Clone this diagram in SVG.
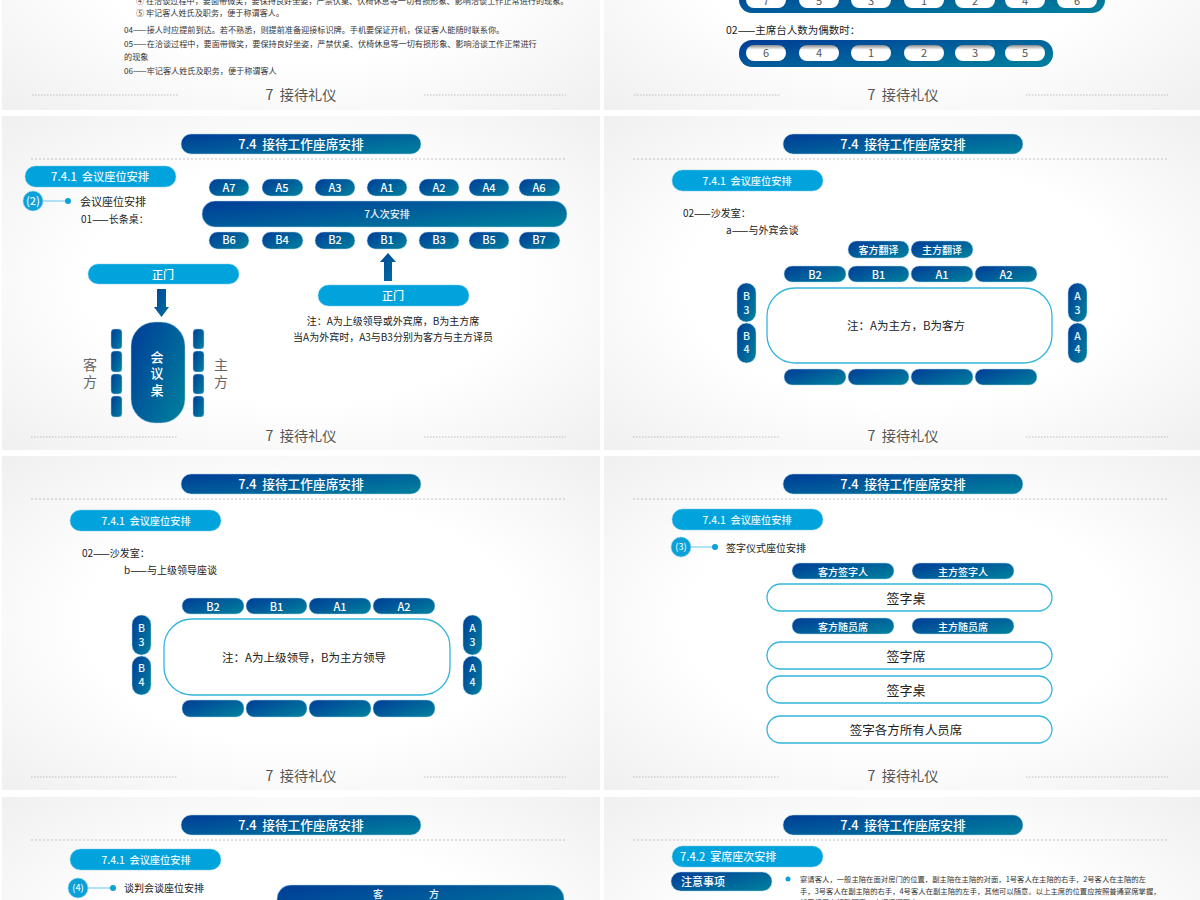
<svg xmlns="http://www.w3.org/2000/svg" width="1200" height="900" viewBox="0 0 1200 900">
<style>
text{font-family:"Noto Sans CJK SC","Liberation Sans",sans-serif;dominant-baseline:central;transform:translateY(-1px)}
.panel{fill:url(#bg)}
.dash{stroke:#b4b4b4;stroke-width:.8;stroke-dasharray:2 2;fill:none}
.fdash{stroke:#a8a8a8;stroke-width:.7;stroke-dasharray:1.5 1.5;fill:none}
.foot{font-size:14.2px;fill:#555;text-anchor:middle}
.g{fill:url(#dark);stroke:#a8d4ea;stroke-width:.5}
.l{fill:#00a3db;stroke:#7ccbea;stroke-width:.5}
.tbl{fill:#fff;stroke:#35b5dc;stroke-width:1.3}
.ttl{font-size:12.7px;font-weight:500;fill:#fff;text-anchor:middle}
.sub{font-size:10.2px;font-weight:500;fill:#e8f7fd;text-anchor:middle}
.w{font-size:11px;font-weight:500;fill:#fff;text-anchor:middle}
.wb{font-size:10px;font-weight:500;fill:#e8f4fa;text-anchor:middle}
.b{font-size:10px;fill:#222}
.s{font-size:8.15px;fill:#333}
.n{font-size:11.5px;fill:#222;text-anchor:middle}
.c{font-size:13px;fill:#222;text-anchor:middle}
.side{font-size:14px;fill:#666;text-anchor:middle}
.num{font-size:11px;fill:#555;text-anchor:middle}
.bn{font-size:10.5px;font-weight:500;fill:#e8f7fd;text-anchor:middle}
.cl{stroke:#7fd0ee;stroke-width:1.2;marker-end:url(#dot);fill:none}
.circ{fill:#0ca0d8;stroke:#8fd6f0;stroke-width:.6}
.ar{fill:url(#arrow)}
.wp{fill:url(#hole)}
</style>
<defs>
<radialGradient id="bg" cx=".5" cy=".5" r=".72"><stop offset=".5" stop-color="#fff"/><stop offset="1" stop-color="#efefef"/></radialGradient>
<linearGradient id="dark" x1="0" y1="0" x2="1" y2=".75"><stop offset="0" stop-color="#003c97"/><stop offset="1" stop-color="#007b9d"/></linearGradient>
<linearGradient id="arrow" x1="0" y1="0" x2="1" y2="1"><stop offset="0" stop-color="#00479a"/><stop offset="1" stop-color="#00709f"/></linearGradient>
<linearGradient id="hole" x1="0" y1="0" x2="0" y2="1"><stop offset="0" stop-color="#8a8a8a"/><stop offset=".3" stop-color="#fff"/><stop offset="1" stop-color="#fff"/></linearGradient>
<marker id="dot" viewBox="0 0 6 6" refX="3" refY="3" markerWidth="6" markerHeight="6" markerUnits="userSpaceOnUse"><circle cx="3" cy="3" r="3" fill="#0ca0d8"/></marker>
</defs>

<rect width="1200" height="900" fill="#fff"/>
<g id="panels">
<rect class="panel" x="2" y="-230" width="598" height="340"/>
<rect class="panel" x="604" y="-230" width="596" height="340"/>
<rect class="panel" x="2" y="116" width="598" height="334"/>
<rect class="panel" x="604" y="116" width="596" height="334"/>
<rect class="panel" x="2" y="456" width="598" height="334"/>
<rect class="panel" x="604" y="456" width="596" height="334"/>
<rect class="panel" x="2" y="797" width="598" height="334"/>
<rect class="panel" x="604" y="797" width="596" height="334"/>
</g>

<g id="rules">
<path class="fdash" d="M32 95H178M424 95H566M634 95H780M1026 95H1168M31 437H178M424 437H566M633 437H780M1026 437H1168M31 777H178M424 777H566M633 777H780M1026 777H1168"/>
<path class="dash" d="M31 159H566M633 159H1168M31 499H566M633 499H1168M31 840H566M633 840H1168"/>
</g>

<g id="footers">
<text class="foot" x="301" y="95">7&#160;&#160;接待礼仪</text>
<text class="foot" x="903" y="95">7&#160;&#160;接待礼仪</text>
<text class="foot" x="301" y="436">7&#160;&#160;接待礼仪</text>
<text class="foot" x="903" y="436">7&#160;&#160;接待礼仪</text>
<text class="foot" x="301" y="776">7&#160;&#160;接待礼仪</text>
<text class="foot" x="903" y="776">7&#160;&#160;接待礼仪</text>
</g>

<g id="connectors">
<line class="cl" x1="43" y1="201" x2="68" y2="201"/>
<line class="cl" x1="691" y1="547" x2="715" y2="547"/>
<line class="cl" x1="88" y1="888" x2="113" y2="888"/>
<polygon class="ar" points="157,289 166,289 166,307 169,307 161.5,317 154,307 157,307"/>
<polygon class="ar" points="384,281 392,281 392,262 396,262 388,253 380,262 384,262"/>
</g>

<g id="p1-text">
<text class="s" x="136" y="1">④ 在洽谈过程中，要面带微笑，要保持良好坐姿，严禁伏桌、伏椅休息等一切有损形象、影响洽谈工作正常进行的现象。</text>
<text class="s" x="136" y="13">⑤ 牢记客人姓氏及职务，便于称谓客人。</text>
<text class="s" x="124" y="30">04——接人时应提前到达。若不熟悉，则提前准备迎接标识牌。手机要保证开机，保证客人能随时联系你。</text>
<text class="s" x="124" y="44">05——在洽谈过程中，要面带微笑，要保持良好坐姿，严禁伏桌、伏椅休息等一切有损形象、影响洽谈工作正常进行</text>
<text class="s" x="124" y="57">的现象</text>
<text class="s" x="124" y="71">06——牢记客人姓氏及职务，便于称谓客人</text>
</g>

<g id="bar-odd">
<rect x="739" y="-22" width="366" height="35" rx="13" fill="url(#dark)"/>
<rect class="wp" x="746" y="-8" width="40" height="16" rx="8"/><text class="num" x="766" y="1">7</text>
<rect class="wp" x="799" y="-8" width="40" height="16" rx="8"/><text class="num" x="819" y="1">5</text>
<rect class="wp" x="851" y="-8" width="40" height="16" rx="8"/><text class="num" x="871" y="1">3</text>
<rect class="wp" x="904" y="-8" width="40" height="16" rx="8"/><text class="num" x="924" y="1">1</text>
<rect class="wp" x="955" y="-8" width="40" height="16" rx="8"/><text class="num" x="975" y="1">2</text>
<rect class="wp" x="1005" y="-8" width="40" height="16" rx="8"/><text class="num" x="1025" y="1">4</text>
<rect class="wp" x="1057" y="-8" width="40" height="16" rx="8"/><text class="num" x="1077" y="1">6</text>
</g>
<text id="even-label" class="b" x="726" y="30" style="font-size:10.5px">02——主席台人数为偶数时：</text>
<g id="bar-even">
<rect x="739" y="40" width="314" height="27" rx="13" fill="url(#dark)"/>
<rect class="wp" x="746" y="45" width="40" height="16" rx="8"/><text class="num" x="766" y="53">6</text>
<rect class="wp" x="799" y="45" width="40" height="16" rx="8"/><text class="num" x="819" y="53">4</text>
<rect class="wp" x="851" y="45" width="40" height="16" rx="8"/><text class="num" x="871" y="53">1</text>
<rect class="wp" x="904" y="45" width="40" height="16" rx="8"/><text class="num" x="924" y="53">2</text>
<rect class="wp" x="955" y="45" width="40" height="16" rx="8"/><text class="num" x="975" y="53">3</text>
<rect class="wp" x="1005" y="45" width="40" height="16" rx="8"/><text class="num" x="1025" y="53">5</text>
</g>

<g id="titles">
<g id="t1"><rect class="g" x="181" y="134" width="240" height="20" rx="10"/><text class="ttl" x="301" y="144">7.4&#160;&#160;接待工作座席安排</text></g>
<g id="t2"><rect class="g" x="783" y="134" width="240" height="20" rx="10"/><text class="ttl" x="903" y="144">7.4&#160;&#160;接待工作座席安排</text></g>
<g id="t3"><rect class="g" x="181" y="474" width="240" height="20" rx="10"/><text class="ttl" x="301" y="484">7.4&#160;&#160;接待工作座席安排</text></g>
<g id="t4"><rect class="g" x="783" y="474" width="240" height="20" rx="10"/><text class="ttl" x="903" y="484">7.4&#160;&#160;接待工作座席安排</text></g>
<g id="t5"><rect class="g" x="181" y="815" width="240" height="20" rx="10"/><text class="ttl" x="301" y="825">7.4&#160;&#160;接待工作座席安排</text></g>
<g id="t6"><rect class="g" x="783" y="815" width="240" height="20" rx="10"/><text class="ttl" x="903" y="825">7.4&#160;&#160;接待工作座席安排</text></g>
</g>

<g id="subs">
<g id="s1"><rect class="l" x="25" y="166" width="151" height="21" rx="10.5"/><text class="sub" x="100" y="177" style="font-size:11.2px">7.4.1&#160;&#160;会议座位安排</text></g>
<g id="s2"><rect class="l" x="672" y="170" width="151" height="21" rx="10.5"/><text class="sub" x="747" y="181">7.4.1&#160;&#160;会议座位安排</text></g>
<g id="s3"><rect class="l" x="70" y="510" width="151" height="21" rx="10.5"/><text class="sub" x="146" y="521">7.4.1&#160;&#160;会议座位安排</text></g>
<g id="s4"><rect class="l" x="672" y="509" width="151" height="21" rx="10.5"/><text class="sub" x="747" y="520">7.4.1&#160;&#160;会议座位安排</text></g>
<g id="s5"><rect class="l" x="70" y="849" width="151" height="21" rx="10.5"/><text class="sub" x="146" y="860">7.4.1&#160;&#160;会议座位安排</text></g>
<g id="s6"><rect class="l" x="672" y="846" width="151" height="21" rx="10.5"/><text class="sub" x="680" y="857" style="text-anchor:start;font-size:11px">7.4.2&#160;&#160;宴席座次安排</text></g>
</g>

<!-- Panel: long table -->
<g id="step2"><circle class="circ" cx="33" cy="201" r="10"/><text class="sub" x="33" y="201" style="font-size:11px">(2)</text></g>
<text class="b" x="80" y="202" style="font-size:11px">会议座位安排</text>
<text class="b" x="81" y="219">01——长条桌：</text>
<g id="door1"><rect class="l" x="88" y="264" width="151" height="20" rx="10"/><text class="w" x="163" y="275">正门</text></g>
<g id="mtable"><rect class="g" x="131" y="322" width="54" height="101" rx="24"/><text class="w" x="157" y="357" style="font-size:13px">会</text><text class="w" x="157" y="373" style="font-size:13px">议</text><text class="w" x="157" y="390" style="font-size:13px">桌</text></g>
<g id="chairs-left"><rect class="g" x="111" y="329" width="11" height="20" rx="3.5"/><rect class="g" x="111" y="351" width="11" height="21" rx="3.5"/><rect class="g" x="111" y="374" width="11" height="20" rx="3.5"/><rect class="g" x="111" y="396" width="11" height="21" rx="3.5"/></g>
<g id="chairs-right"><rect class="g" x="193" y="329" width="11" height="20" rx="3.5"/><rect class="g" x="193" y="351" width="11" height="21" rx="3.5"/><rect class="g" x="193" y="374" width="11" height="20" rx="3.5"/><rect class="g" x="193" y="396" width="11" height="21" rx="3.5"/></g>
<g id="guest"><text class="side" x="90" y="365">客</text><text class="side" x="90" y="382">方</text></g>
<g id="host"><text class="side" x="221" y="365">主</text><text class="side" x="221" y="382">方</text></g>

<g id="row-a">
<g id="A7"><rect class="g" x="209" y="179" width="40" height="17" rx="8.5"/><text class="w" x="229" y="188">A7</text></g>
<g id="A5"><rect class="g" x="262" y="179" width="41" height="17" rx="8.5"/><text class="w" x="282" y="188">A5</text></g>
<g id="A3"><rect class="g" x="315" y="179" width="40" height="17" rx="8.5"/><text class="w" x="335" y="188">A3</text></g>
<g id="A1"><rect class="g" x="367" y="179" width="40" height="17" rx="8.5"/><text class="w" x="387" y="188">A1</text></g>
<g id="A2"><rect class="g" x="419" y="179" width="40" height="17" rx="8.5"/><text class="w" x="439" y="188">A2</text></g>
<g id="A4"><rect class="g" x="469" y="179" width="40" height="17" rx="8.5"/><text class="w" x="489" y="188">A4</text></g>
<g id="A6"><rect class="g" x="519" y="179" width="41" height="17" rx="8.5"/><text class="w" x="539" y="188">A6</text></g>
</g>
<g id="long-table"><rect class="g" x="202" y="201" width="365" height="26" rx="13"/><text class="wb" x="387" y="214.500">7人次安排</text></g>
<g id="row-b">
<g id="B6"><rect class="g" x="209" y="232" width="40" height="17" rx="8.5"/><text class="w" x="229" y="240">B6</text></g>
<g id="B4"><rect class="g" x="262" y="232" width="41" height="17" rx="8.5"/><text class="w" x="282" y="240">B4</text></g>
<g id="B2"><rect class="g" x="315" y="232" width="40" height="17" rx="8.5"/><text class="w" x="335" y="240">B2</text></g>
<g id="B1"><rect class="g" x="367" y="232" width="40" height="17" rx="8.5"/><text class="w" x="387" y="240">B1</text></g>
<g id="B3"><rect class="g" x="419" y="232" width="40" height="17" rx="8.5"/><text class="w" x="439" y="240">B3</text></g>
<g id="B5"><rect class="g" x="469" y="232" width="40" height="17" rx="8.5"/><text class="w" x="489" y="240">B5</text></g>
<g id="B7"><rect class="g" x="519" y="232" width="41" height="17" rx="8.5"/><text class="w" x="539" y="240">B7</text></g>
</g>
<g id="door2"><rect class="l" x="318" y="285" width="151" height="21" rx="10.5"/><text class="w" x="393" y="296">正门</text></g>
<text class="b" x="393" y="321" style="text-anchor:middle">注：A为上级领导或外宾席，B为主方席</text>
<text class="b" x="393" y="337" style="text-anchor:middle">当A为外宾时，A3与B3分别为客方与主方译员</text>

<!-- Panel: sofa a -->
<text class="b" x="683" y="213">02——沙发室：</text>
<text class="b" x="726" y="230">a——与外宾会谈</text>
<g id="a-kf"><rect class="g" x="848" y="241" width="61" height="17" rx="8.5"/><text class="w" x="878.500" y="250" style="font-size:10px">客方翻译</text></g>
<g id="a-zf"><rect class="g" x="911" y="241" width="62" height="17" rx="8.5"/><text class="w" x="942" y="250" style="font-size:10px">主方翻译</text></g>
<g id="a-B2"><rect class="g" x="784" y="266" width="62" height="16" rx="8"/><text class="w" x="815" y="275">B2</text></g>
<g id="a-B1"><rect class="g" x="848" y="266" width="61" height="16" rx="8"/><text class="w" x="878.500" y="275">B1</text></g>
<g id="a-A1"><rect class="g" x="911" y="266" width="62" height="16" rx="8"/><text class="w" x="942" y="275">A1</text></g>
<g id="a-A2"><rect class="g" x="975" y="266" width="62" height="16" rx="8"/><text class="w" x="1006" y="275">A2</text></g>
<g id="a-table"><rect class="tbl" x="767" y="288" width="285" height="75" rx="28"/><text class="n" x="906" y="326">注：A为主方，B为客方</text></g>
<g id="a-B3"><rect class="g" x="737" y="283" width="19" height="39" rx="9.5"/><text class="bn" x="746.500" y="296">B</text><text class="bn" x="746.500" y="310">3</text></g>
<g id="a-B4"><rect class="g" x="737" y="323" width="19" height="40" rx="9.500"/><text class="bn" x="746.500" y="336">B</text><text class="bn" x="746.500" y="349">4</text></g>
<g id="a-A3"><rect class="g" x="1068" y="283" width="19" height="39" rx="9.5"/><text class="bn" x="1077.500" y="296">A</text><text class="bn" x="1077.500" y="310">3</text></g>
<g id="a-A4"><rect class="g" x="1068" y="323" width="19" height="40" rx="9.500"/><text class="bn" x="1077.500" y="336">A</text><text class="bn" x="1077.500" y="349">4</text></g>
<g id="a-bottom"><rect class="g" x="784" y="369" width="62" height="16" rx="8"/><rect class="g" x="848" y="369" width="61" height="16" rx="8"/><rect class="g" x="911" y="369" width="62" height="16" rx="8"/><rect class="g" x="975" y="369" width="62" height="16" rx="8"/></g>

<!-- Panel: sofa b -->
<text class="b" x="82" y="553">02——沙发室：</text>
<text class="b" x="124" y="570">b——与上级领导座谈</text>
<g id="b-B2"><rect class="g" x="182" y="598" width="62" height="16" rx="8"/><text class="w" x="213" y="607">B2</text></g>
<g id="b-B1"><rect class="g" x="246" y="598" width="61" height="16" rx="8"/><text class="w" x="276.500" y="607">B1</text></g>
<g id="b-A1"><rect class="g" x="309" y="598" width="62" height="16" rx="8"/><text class="w" x="340" y="607">A1</text></g>
<g id="b-A2"><rect class="g" x="373" y="598" width="62" height="16" rx="8"/><text class="w" x="404" y="607">A2</text></g>
<g id="b-table"><rect class="tbl" x="164" y="619" width="286" height="76" rx="28"/><text class="n" x="304" y="658">注：A为上级领导，B为主方领导</text></g>
<g id="b-B3"><rect class="g" x="132" y="615" width="19" height="40" rx="9.5"/><text class="bn" x="141.500" y="628">B</text><text class="bn" x="141.500" y="642">3</text></g>
<g id="b-B4"><rect class="g" x="132" y="656" width="19" height="39" rx="9.5"/><text class="bn" x="141.500" y="668">B</text><text class="bn" x="141.500" y="682">4</text></g>
<g id="b-A3"><rect class="g" x="463" y="615" width="19" height="40" rx="9.5"/><text class="bn" x="472.500" y="628">A</text><text class="bn" x="472.500" y="642">3</text></g>
<g id="b-A4"><rect class="g" x="463" y="656" width="19" height="39" rx="9.5"/><text class="bn" x="472.500" y="668">A</text><text class="bn" x="472.500" y="682">4</text></g>
<g id="b-bottom"><rect class="g" x="182" y="700" width="62" height="17" rx="8"/><rect class="g" x="246" y="700" width="61" height="17" rx="8"/><rect class="g" x="309" y="700" width="62" height="17" rx="8"/><rect class="g" x="373" y="700" width="62" height="17" rx="8"/></g>

<!-- Panel: signing -->
<g id="step3"><circle class="circ" cx="681" cy="547" r="10"/><text class="sub" x="681" y="547" style="font-size:9px">(3)</text></g>
<text class="b" x="726" y="548">签字仪式座位安排</text>
<g id="sg1"><rect class="g" x="792" y="563" width="102" height="16" rx="8"/><text class="w" x="843" y="572" style="font-size:10px">客方签字人</text></g>
<g id="sg2"><rect class="g" x="912" y="563" width="102" height="16" rx="8"/><text class="w" x="963" y="572" style="font-size:10px">主方签字人</text></g>
<g id="tb1"><rect class="tbl" x="767" y="584" width="285" height="27" rx="13.5"/><text class="c" x="906" y="598">签字桌</text></g>
<g id="sg3"><rect class="g" x="792" y="618" width="102" height="16" rx="8"/><text class="w" x="843" y="627" style="font-size:10px">客方随员席</text></g>
<g id="sg4"><rect class="g" x="912" y="618" width="102" height="16" rx="8"/><text class="w" x="963" y="627" style="font-size:10px">主方随员席</text></g>
<g id="tb2"><rect class="tbl" x="767" y="642" width="285" height="27" rx="13.5"/><text class="c" x="906" y="656">签字席</text></g>
<g id="tb3"><rect class="tbl" x="767" y="676" width="285" height="27" rx="13.5"/><text class="c" x="906" y="690">签字桌</text></g>
<g id="tb4"><rect class="tbl" x="767" y="716" width="285" height="27" rx="13.5"/><text class="c" x="906" y="730" style="font-size:12.5px">签字各方所有人员席</text></g>

<!-- Panel: negotiation -->
<g id="step4"><circle class="circ" cx="78" cy="888" r="10"/><text class="sub" x="78" y="888" style="font-size:9px">(4)</text></g>
<text class="b" x="124" y="888">谈判会谈座位安排</text>
<g id="neg"><rect class="g" x="277" y="885" width="287" height="40" rx="14"/><text class="wb" x="373 429" y="894" style="text-anchor:start">客方</text></g>

<!-- Panel: banquet -->
<g id="note-head"><rect class="g" x="671" y="872" width="101" height="19" rx="9.5"/><text class="w" x="703" y="882">注意事项</text></g>
<circle cx="788" cy="879" r="2.500" fill="#0ca0d8"/>
<g id="note">
<text class="s" x="800" y="879" style="font-size:7.35px">宴请客人，一般主陪在面对房门的位置，副主陪在主陪的对面，1号客人在主陪的右手，2号客人在主陪的左</text>
<text class="s" x="800" y="891" style="font-size:7.35px">手，3号客人在副主陪的右手，4号客人在副主陪的左手，其他可以随意。以上主席的位置应按照普通宴席掌握，</text>
<text class="s" x="800" y="902" style="font-size:7.35px">如果场景有特殊因素，应视情况而定。</text>
</g>
</svg>
